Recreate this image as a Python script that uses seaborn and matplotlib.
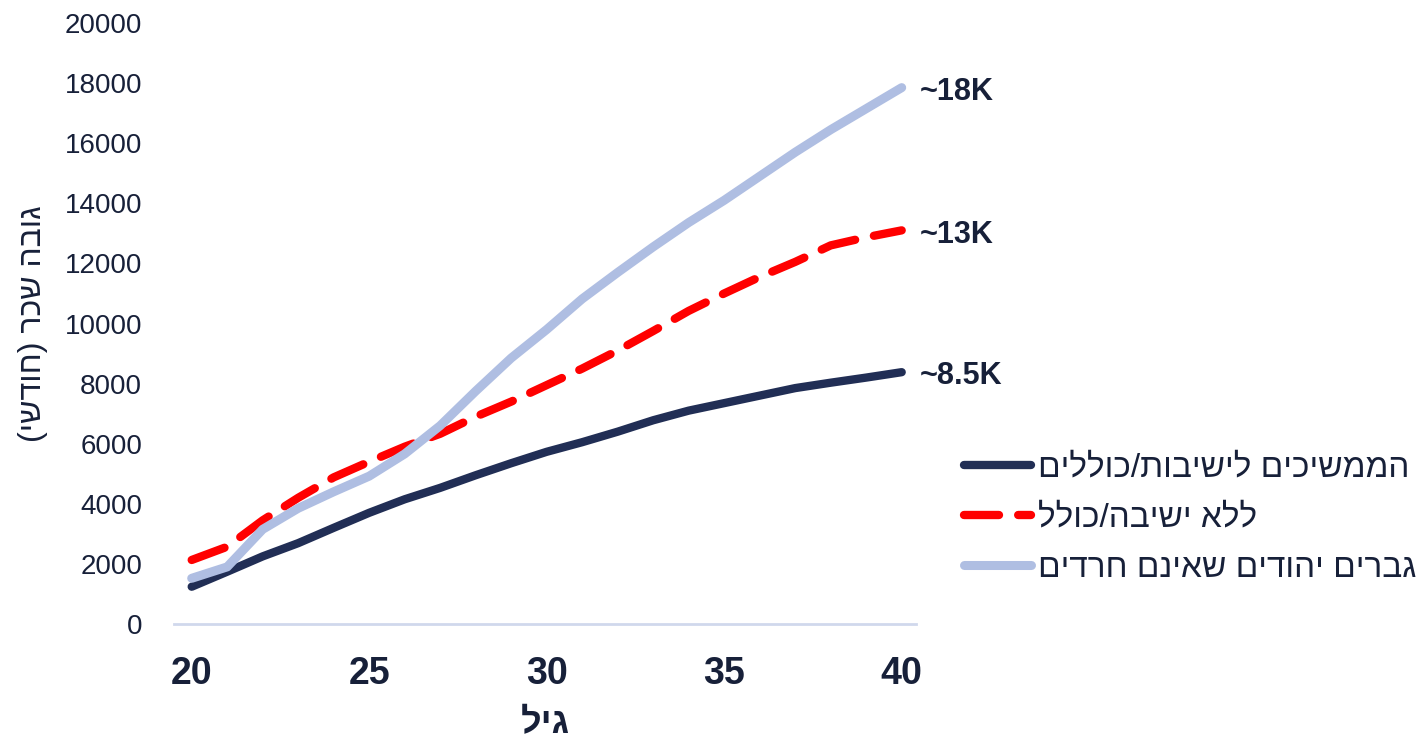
import pandas as pd
import numpy as np
import seaborn as sns
import matplotlib.pyplot as plt

ages = list(range(20, 41))

# monthly wage by age
yeshiva = [1240, 1740, 2250, 2690, 3200, 3700, 4150, 4530, 4950, 5350, 5730,
           6050, 6400, 6780, 7100, 7350, 7600, 7850, 8030, 8200, 8380]
no_yeshiva = [2130, 2570, 3450, 4200, 4880, 5400, 5900, 6330, 6900, 7400, 7950,
              8500, 9100, 9750, 10420, 11000, 11550, 12050, 12600, 12870, 13100]
non_haredi = [1520, 1900, 3150, 3850, 4400, 4920, 5660, 6600, 7750, 8850, 9800,
              10820, 11700, 12550, 13360, 14100, 14900, 15700, 16450, 17150, 17850]

series_names = ['הממשיכים לישיבות/כוללים', 'ללא ישיבה/כולל', 'גברים יהודים שאינם חרדים']
end_labels = ['~8.5K', '~13K', '~18K']
x_ticks = [20, 25, 30, 35, 40]
y_ticks = list(range(0, 20001, 2000))
x_label = 'גיל'
y_label = 'גובה שכר (חודשי)'

navy = '#212E55'
red = '#FF0000'
light = '#AFBEE2'
text_col = '#172039'


def heb(s):
    # matplotlib has no bidi: flip to visual order and mirror brackets
    s = s[::-1]
    return s.translate(str.maketrans('()', ')('))


sns.set_style('white')
plt.rcParams['font.family'] = ['Liberation Sans', 'DejaVu Sans']

df = pd.DataFrame({'age': ages, 'yeshiva': yeshiva,
                   'no_yeshiva': no_yeshiva, 'non_haredi': non_haredi})

fig = plt.figure(figsize=(14.2, 7.43), dpi=100)
ax = fig.add_axes([0.1225, 0.1602, 0.5225, 0.8088])

sns.lineplot(data=df, x='age', y='yeshiva', ax=ax, color=navy, linewidth=6,
             solid_capstyle='round', label=heb(series_names[0]), zorder=2)
sns.lineplot(data=df, x='age', y='no_yeshiva', ax=ax, color=red, linewidth=6,
             dashes=(4.2, 2.3), dash_capstyle='round', label=heb(series_names[1]), zorder=3)
sns.lineplot(data=df, x='age', y='non_haredi', ax=ax, color=light, linewidth=6.5,
             solid_capstyle='round', label=heb(series_names[2]), zorder=4)

# end labels
for vals, lab in zip([yeshiva, no_yeshiva, non_haredi], end_labels):
    ax.annotate(lab, xy=(ages[-1], vals[-1]), xytext=(13, -3), textcoords='offset points',
                ha='left', va='center', fontsize=22, fontweight='bold', color=text_col)

ax.set_xlim(19.5, 40.4)
ax.set_ylim(0, 20000)
ax.set_xticks(x_ticks)
ax.set_yticks(y_ticks)
ax.tick_params(axis='x', length=0, pad=23, labelsize=27, labelcolor=text_col)
ax.tick_params(axis='y', length=0, pad=23, labelsize=20, labelcolor=text_col)
for t in ax.get_xticklabels():
    t.set_fontweight('bold')

ax.set_xlabel(heb(x_label), fontsize=26, fontweight='bold', color=text_col, labelpad=10)
ax.set_ylabel(heb(y_label), fontsize=23, color=text_col, labelpad=12)

for side in ['top', 'right', 'left']:
    ax.spines[side].set_visible(False)
ax.spines['bottom'].set_color('#D0D8EC')
ax.spines['bottom'].set_linewidth(2)
ax.grid(False)

ax.legend(loc='center left', bbox_to_anchor=(1.025, 0.176), frameon=False,
          fontsize=24, handlelength=2.0, handletextpad=0.2, labelspacing=0.58,
          labelcolor=text_col)

plt.savefig('out.png', dpi=100)
